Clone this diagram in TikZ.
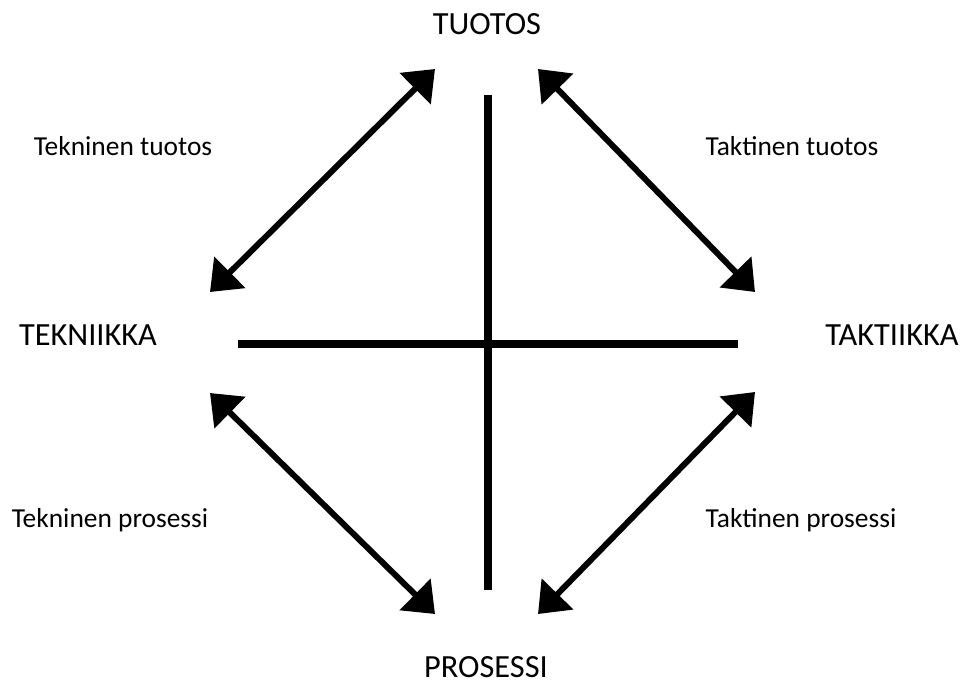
\documentclass[tikz,border=0pt]{standalone}
\usepackage{fontspec}
\setmainfont{Carlito}
\usetikzlibrary{arrows.meta,positioning}
\tikzset{
    x=0.02cm,y=-0.02cm,
    pole/.style ={anchor=base, inner sep=0pt, font=\fontsize{18.4}{20}\selectfont},
    lbl/.style ={anchor=base, inner sep=0pt, font=\fontsize{15.6}{18}\selectfont},
    axis/.style={line width=4.5pt},
    twoway/.style={line width=3.4pt, {Triangle[length=0.56cm,width=0.86cm]}-{Triangle[length=0.56cm,width=0.86cm]}}
}
\begin{document}
\begin{tikzpicture}
    \useasboundingbox (0,0) rectangle (964,684);

    %%Nodes
    \node[pole] (tuotos) at (487,34) {TUOTOS};
    \node[pole] (prosessi) at (486,677) {PROSESSI};
    \node[pole] (tekniikka) at (88,345) {TEKNIIKKA};
    \node[pole] (taktiikka) at (892,345) {TAKTIIKKA};

    \node[lbl] (tektuo) at (123,155) {Tekninen tuotos};
    \node[lbl] (taktuo) at (792,155) {Taktinen tuotos};
    \node[lbl] (tekpro) at (110,527) {Tekninen prosessi};
    \node[lbl] (takpro) at (801,527) {Taktinen prosessi};

    %%Axis ends
    \coordinate (top) at (488,95);
    \coordinate (bottom) at (488,590);
    \coordinate (left) at (238,344);
    \coordinate (right) at (738,344);

    %%Arrow ends
    \coordinate (a1) at (435,69);
    \coordinate (a2) at (210,292);
    \coordinate (b1) at (210,393);
    \coordinate (b2) at (435,614);
    \coordinate (c1) at (538,69);
    \coordinate (c2) at (755,292);
    \coordinate (d1) at (755,392);
    \coordinate (d2) at (538,614);

    % Axes
    \path (top) edge[axis] (bottom);
    \path (left) edge[axis] (right);

    % Double arrows
    \path (a1) edge[twoway] (a2);
    \path (b1) edge[twoway] (b2);
    \path (c1) edge[twoway] (c2);
    \path (d1) edge[twoway] (d2);
\end{tikzpicture}
\end{document}
